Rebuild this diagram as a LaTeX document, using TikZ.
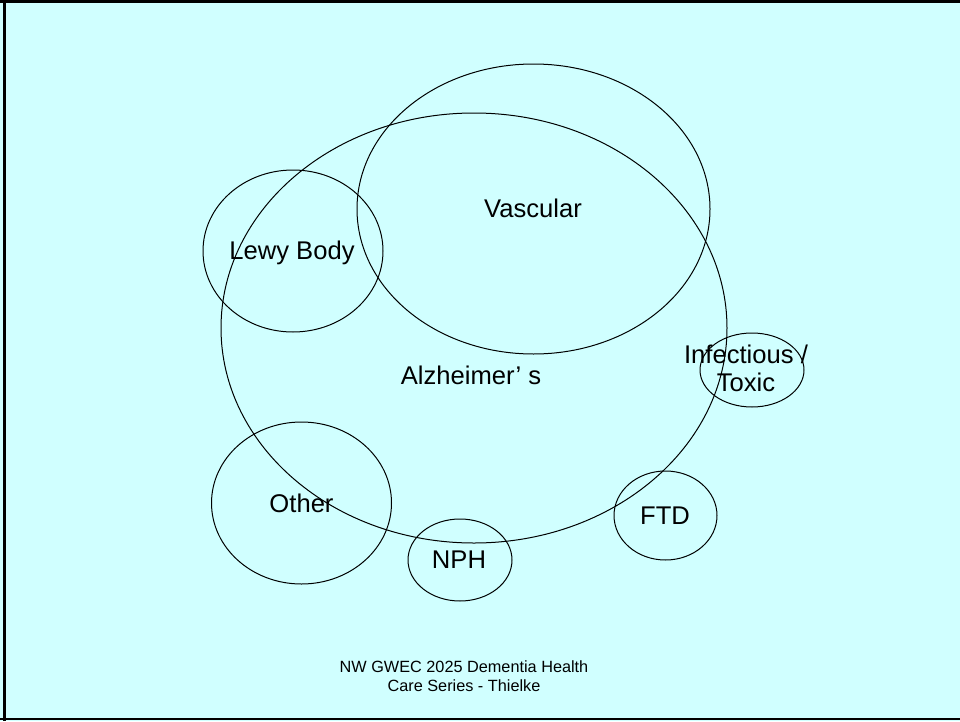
\documentclass[tikz,border=0pt]{standalone}
\usepackage{fontspec}
\setmainfont{Liberation Sans}
\usepackage{xcolor}
\usepackage{tikz}
\usetikzlibrary{shapes, positioning}
\definecolor{slidebg}{RGB}{208,255,255}
\tikzset{
    ringnode/.style = {draw, ellipse, fill=none, line width=0.75pt, inner sep = 0em},
    textnode/.style  = {draw=none, fill=none, rectangle, inner sep = 0em, 
      font=\fontsize{19.2}{21}\selectfont},
    smalltextnode/.style  = {draw=none, fill=none, rectangle, inner sep = 0em, font=\fontsize{12.2}{14.4}\selectfont},
    every text node part/.style={align=center}
}
\begin{document}
\begin{tikzpicture}[x=0.75pt, y=-0.75pt]
\fill[slidebg] (0,0) rectangle (960,721);
\useasboundingbox (0,0) rectangle (960,721);
\draw[line width=2.25pt] (4.2,0) -- (4.2,721);
\draw[line width=2.25pt] (0,1.6) -- (960,1.6);
\draw[line width=2pt] (0,719) -- (960,719);
% the rings
\node[ringnode, name=alzheimer, minimum width=379.5pt, minimum height=322.5pt] at (474,328) {}; 
\node[ringnode, name=vascular, minimum width=264.75pt, minimum height=217.5pt] at (533.5,209) {}; 
\node[ringnode, name=lewy, minimum width=135pt, minimum height=121.5pt] at (293,251) {}; 
\node[ringnode, name=infectious, minimum width=78pt, minimum height=55.5pt] at (752,370) {}; 
\node[ringnode, name=other, minimum width=135pt, minimum height=121.5pt] at (301.5,503) {}; 
\node[ringnode, name=nph, minimum width=78pt, minimum height=61.5pt] at (460,560) {}; 
\node[ringnode, name=ftd, minimum width=77.25pt, minimum height=66.75pt] at (665.5,515.5) {}; 
% the labels
\node[textnode, name=alztext] at (471,375) {Alzheimer’ s}; 
\node[textnode, name=vasctext] at (533,208) {Vascular}; 
\node[textnode, name=lewytext] at (292,253) {Lewy Body}; 
\node[textnode, name=inftext] at (746,368) {Infectious /\\Toxic}; 
\node[textnode, name=othertext] at (301.5,503) {Other}; 
\node[textnode, name=nphtext] at (459,560) {NPH}; 
\node[textnode, name=ftdtext] at (665,516) {FTD}; 
\node[smalltextnode, name=footer] at (464,676) {NW GWEC 2025 Dementia Health\\Care Series - Thielke}; 
\end{tikzpicture}
\end{document}
